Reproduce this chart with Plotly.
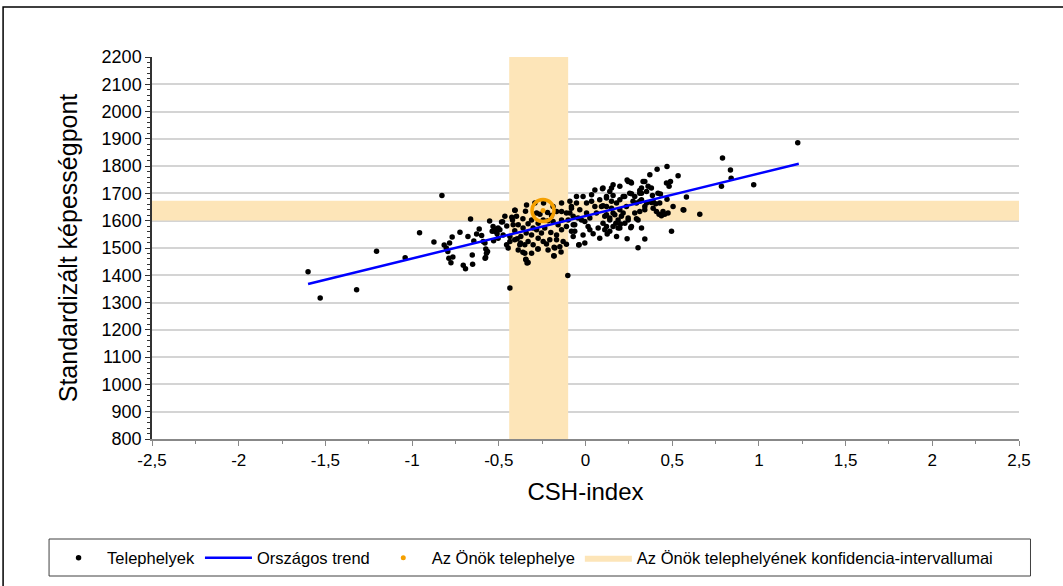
import plotly.graph_objects as go

# Sites: CSH-index vs. standardised ability score
site_x = [
    -1.60, -1.53, -1.32, -1.205, -1.04, -0.957, -0.828, -0.874, -0.663, -0.724,
    -0.769, -0.784, -0.815, -0.803, -0.794, -0.765, -0.788, -0.776, -0.705, -0.692,
    -0.651, -0.653, -0.678, -0.644, -0.628, -0.613, -0.599, -0.59, -0.58, -0.575,
    -0.565, -0.579, -0.553, -0.533, -0.538, -0.517, -0.51, -0.53, -0.504, -0.478,
    -0.406, -0.425, -0.436, -0.102, -0.337, -0.344, -0.35, -0.275, -0.183, -0.177,
    -0.141, -0.11, -0.039, 0.303, 0.342, 0.24, -0.242, -0.263, -0.219, -0.282,
    -0.196, -0.484, -0.408, -0.346, -0.361, -0.421, -0.454, -0.388, -0.331, -0.311,
    -0.408, -0.436, -0.373, -0.342, -0.311, -0.282, -0.235, -0.20, -0.273, -0.331,
    -0.379, -0.446, -0.361, -0.344, -0.331, -0.273, -0.225, -0.181, -0.167, -0.129,
    -0.181, -0.138, -0.11, -0.138, -0.09, -0.081, -0.11, -0.081, -0.504, -0.523,
    -0.216, -0.158, -0.037, -0.071, -0.062, -0.071, -0.014, 0.015, 0.044, -0.023,
    0.006, -0.052, -0.014, 0.035, 0.035, 0.082, 0.101, 0.14, 0.092, 0.063,
    0.121, 0.14, 0.101, 0.159, 0.14, 0.188, 0.198, 0.179, 0.198, 0.246,
    0.265, 0.255, 0.236, 0.246, 0.265, 0.323, 0.313, 0.323, 0.332, -0.004,
    0.025, 0.073, 0.217, 0.15, -0.033, -0.081, 0.496, 0.313, 0.323, 0.371,
    0.413, 0.47, 0.534, 0.342, 0.38, 0.467, 0.49, 0.482, 0.418, 0.386,
    0.432, 0.39, 0.47, 0.582, 0.784, 0.79, 0.38, 0.405, 0.39, 0.409,
    0.424, 0.438, 0.457, 0.476, 0.563, 0.659, 0.342, 0.352, 0.098, 0.15,
    0.24, 0.261, 0.313, 0.121, 0.125, 0.175, 0.188, 0.202, 0.246, 0.261,
    0.294, 0.111, 0.159, 0.217, 0.14, 0.101, 0.198, 0.274, 0.313, 0.121,
    0.159, 0.226, 0.265, -0.571, -0.576, -0.455, -0.394, -0.375, -0.494, 0.836,
    0.84, 0.97, 1.224, 0.567,
    -0.465, -0.398, -0.34, -0.292, -0.187, -0.167, -0.138, -0.10, -0.071, -0.062,
    -0.273, -0.244, -0.187, -0.138, -0.167, -0.254, -0.302, -0.36, -0.417, -0.475,
    -0.408, -0.35, -0.302, -0.244, -0.206, -0.148, -0.436, -0.388, -0.311, -0.216,
    -0.09, -0.043, -0.004, 0.025, 0.054, 0.121, 0.15, 0.169, 0.207, 0.227,
    0.198, 0.111, 0.082, 0.179, 0.284, 0.294, 0.284, 0.159, 0.121, 0.054,
    0.006, -0.052, 0.303, 0.342, 0.352, 0.428, 0.447, 0.505, 0.361, 0.323,
]
site_y = [
    1413, 1317, 1347, 1488, 1464, 1556, 1692, 1522, 1606, 1558,
    1540, 1518, 1511, 1500, 1487, 1467, 1462, 1446, 1437, 1424,
    1440, 1474, 1542, 1526, 1551, 1570, 1546, 1524, 1518, 1496,
    1487, 1462, 1599, 1579, 1561, 1569, 1552, 1527, 1536, 1596,
    1638, 1613, 1353, 1399, 1445, 1459, 1481, 1496, 1472, 1500,
    1485, 1514, 1511, 1501, 1533, 1534, 1665, 1624, 1630, 1628,
    1619, 1595, 1638, 1635, 1607, 1603, 1581, 1585, 1589, 1603,
    1563, 1542, 1542, 1555, 1548, 1567, 1573, 1557, 1536, 1524,
    1512, 1500, 1484, 1457, 1447, 1496, 1515, 1503, 1530, 1524,
    1471, 1603, 1628, 1665, 1671, 1646, 1579, 1561, 1573, 1561,
    1600, 1585, 1512, 1585, 1561, 1542, 1548, 1579, 1552, 1603,
    1628, 1665, 1689, 1695, 1671, 1677, 1720, 1707, 1652, 1628,
    1622, 1603, 1591, 1579, 1561, 1603, 1640, 1665, 1726, 1744,
    1738, 1701, 1652, 1610, 1579, 1573, 1634, 1701, 1744, 1518,
    1567, 1573, 1689, 1671, 1640, 1652, 1561, 1701, 1677, 1768,
    1789, 1799, 1765, 1744, 1720, 1738, 1744, 1726, 1701, 1692,
    1698, 1671, 1679, 1687, 1726, 1830, 1667, 1662, 1646, 1634,
    1624, 1618, 1624, 1628, 1640, 1624, 1652, 1707, 1717, 1720,
    1749, 1742, 1711, 1579, 1551, 1591, 1573, 1588, 1603, 1574,
    1607, 1616, 1628, 1628, 1610, 1655, 1677, 1671, 1671, 1683,
    1692, 1689, 1699, 1481, 1465, 1512, 1534, 1518, 1567, 1786,
    1756, 1732, 1886, 1639,
    1616, 1616, 1658, 1665, 1652, 1634, 1634, 1603, 1616, 1585,
    1591, 1603, 1597, 1567, 1548, 1555, 1573, 1573, 1585, 1548,
    1530, 1512, 1512, 1524, 1530, 1505, 1524, 1493, 1481, 1493,
    1628, 1610, 1597, 1610, 1652, 1652, 1646, 1622, 1616, 1591,
    1573, 1567, 1536, 1542, 1628, 1665, 1689, 1732, 1689, 1713,
    1665, 1689, 1603, 1640, 1665, 1665, 1634, 1652, 1726, 1720,
]

# National trend line end points
trend_x = [-1.60, 1.23]
trend_y = [1368, 1809]

# Own site and its confidence intervals
own_x = [-0.245]
own_y = [1637]
ci_x = [-0.44, -0.10]
ci_y = [1601, 1673]

x_range = [-2.5, 2.5]
y_range = [800, 2200]
x_tickvals = [-2.5, -2, -1.5, -1, -0.5, 0, 0.5, 1, 1.5, 2, 2.5]
x_ticktext = ["-2,5", "-2", "-1,5", "-1", "-0,5", "0", "0,5", "1", "1,5", "2", "2,5"]
y_tickvals = list(range(800, 2201, 100))

BAND = "#fde5b8"
ORANGE = "#f5a000"
FONT = "Liberation Sans, Arial, sans-serif"

fig = go.Figure()

# confidence bands: vertical (CSH-index) and horizontal (score)
band_x = [ci_x[0], ci_x[1], ci_x[1], ci_x[0], ci_x[0], None,
          x_range[0], x_range[1], x_range[1], x_range[0], x_range[0]]
band_y = [y_range[0], y_range[0], y_range[1], y_range[1], y_range[0], None,
          ci_y[0], ci_y[0], ci_y[1], ci_y[1], ci_y[0]]
fig.add_trace(go.Scatter(
    x=band_x, y=band_y, mode="lines", fill="toself", fillcolor=BAND,
    line=dict(width=0, color=BAND), hoverinfo="skip",
    name="Az Önök telephelyének konfidencia-intervallumai", legendrank=4,
))

fig.add_trace(go.Scatter(
    x=site_x, y=site_y, mode="markers",
    marker=dict(color="black", size=5.5),
    name="Telephelyek", legendrank=1,
))

fig.add_trace(go.Scatter(
    x=trend_x, y=trend_y, mode="lines",
    line=dict(color="#0000ff", width=2.5),
    name="Országos trend", legendrank=2,
))

# highlight ring around the own site
fig.add_trace(go.Scatter(
    x=own_x, y=own_y, mode="markers",
    marker=dict(symbol="circle-open", size=22, color=ORANGE, line=dict(width=3.5, color=ORANGE)),
    showlegend=False, hoverinfo="skip",
))
fig.add_trace(go.Scatter(
    x=own_x, y=own_y, mode="markers",
    marker=dict(color=ORANGE, size=5),
    name="Az Önök telephelye", legendrank=3,
))

L, R, T, B = 152, 43.5, 57, 147
W, H = 1063, 586
pw, ph = W - L - R, H - T - B


def px_to_paper(px, py):
    return (px - L) / pw, (H - B - py) / ph


# outer frame and legend box
fx0, fy0 = px_to_paper(3, 592)
fx1, fy1 = px_to_paper(1070, 7)
lx0, ly0 = px_to_paper(49, 576)
lx1, ly1 = px_to_paper(1031, 539)
legx, legy = px_to_paper(50, 558)

fig.update_layout(
    width=W, height=H,
    margin=dict(l=L, r=R, t=T, b=B, autoexpand=False),
    paper_bgcolor="white", plot_bgcolor="white",
    font=dict(family=FONT, color="black"),
    separators=", ",
    showlegend=True,
    legend=dict(
        orientation="h", x=legx, y=legy, xanchor="left", yanchor="middle",
        font=dict(size=16.5, family=FONT), bgcolor="rgba(0,0,0,0)",
        itemwidth=47, traceorder="normal",
    ),
    shapes=[
        dict(type="rect", xref="paper", yref="paper", x0=fx0, y0=fy0, x1=fx1, y1=fy1,
             line=dict(color="black", width=1.5), layer="below"),
        dict(type="rect", xref="paper", yref="paper", x0=lx0, y0=ly0, x1=lx1, y1=ly1,
             line=dict(color="#404040", width=1), layer="below"),
    ],
)

fig.update_xaxes(
    range=x_range, tickvals=x_tickvals, ticktext=x_ticktext, automargin=False,
    showgrid=False, zeroline=False,
    showline=True, linecolor="#888888", linewidth=1.5,
    ticks="outside", ticklen=5, tickcolor="#888888",
    minor=dict(dtick=0.25, ticks="outside", ticklen=3, tickcolor="#888888", showgrid=False),
    tickfont=dict(size=17, family=FONT),
    title=dict(text="CSH-index", font=dict(size=24, family=FONT), standoff=14),
)
fig.update_yaxes(
    range=y_range, tickvals=y_tickvals, automargin=False,
    showgrid=True, gridcolor="#d4d4d4", gridwidth=1.5, zeroline=False,
    showline=True, linecolor="#333333", linewidth=1.5,
    ticks="outside", ticklen=5, tickcolor="#333333",
    minor=dict(dtick=20, ticks="outside", ticklen=3, tickcolor="#333333", showgrid=False),
    tickfont=dict(size=18, family=FONT),
    title=dict(text="Standardizált képességpont", font=dict(size=25, family=FONT), standoff=17),
)

fig.write_html("out.html")
